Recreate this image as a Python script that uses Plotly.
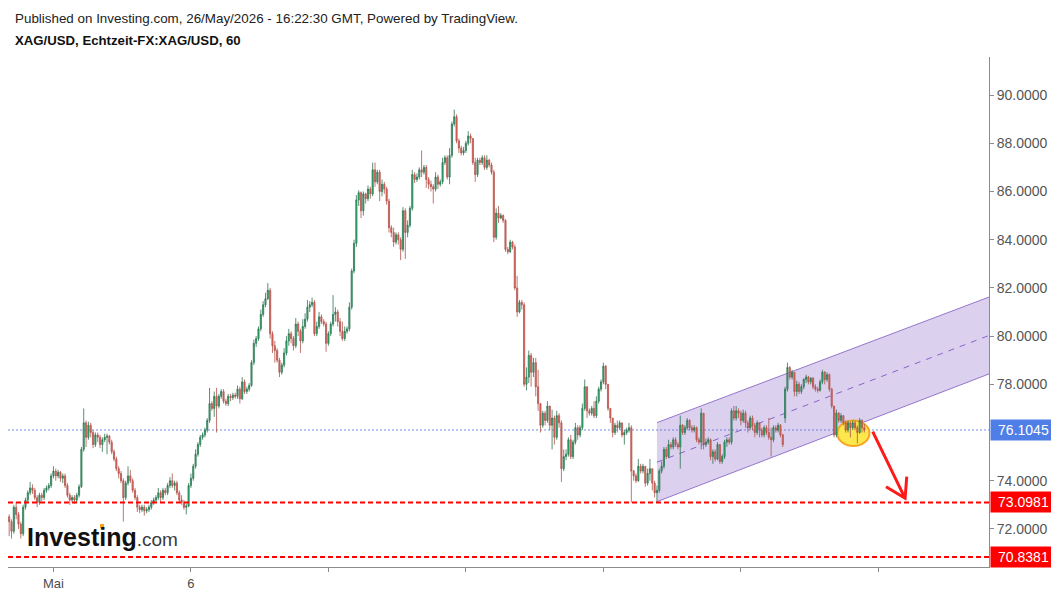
import plotly.graph_objects as go

# XAG/USD hourly candles
closes = [
  72.3, 71.9, 72.9, 72.6, 72.2, 71.8, 72.9, 73.2, 73.5, 73.7,
  73.6, 73.3, 73.1, 73.4, 73.3, 73.6, 73.7, 73.8, 74.2, 74.4,
  74.2, 74.35, 74.1, 74.2, 73.8, 73.4, 73.2, 73.3, 73.2, 73.4,
  73.75, 75.3, 76.4, 75.8, 76.3, 76.0, 75.5, 75.9, 75.8, 75.5,
  75.7, 75.8, 75.85, 75.6, 75.2, 74.9, 74.5, 74.3, 74.0, 73.3,
  73.9, 74.2, 74.0, 73.6, 73.3, 72.9, 72.8, 72.9, 72.75, 72.8,
  72.9, 73.1, 73.2, 73.3, 73.5, 73.3, 73.6, 73.5, 73.8, 74.0,
  73.8, 73.9, 73.5, 73.2, 73.1, 72.9, 72.95, 73.8, 74.1, 74.6,
  75.1, 75.5, 75.8, 75.9, 76.1, 76.5, 77.2, 77.0, 77.5, 77.1,
  77.5, 77.7, 77.3, 77.2, 77.5, 77.45, 77.55, 77.5, 77.8, 77.4,
  78.1, 77.7, 77.8, 77.95, 78.9, 79.7, 79.9, 80.3, 80.9, 81.3,
  81.55, 81.9, 80.1, 79.6, 79.4, 79.0, 78.5, 78.8, 79.3, 79.8,
  80.1, 79.9, 79.6, 80.5, 80.2, 79.8, 80.4, 80.7, 81.2, 81.3,
  81.4, 80.1, 80.4, 80.8, 80.6, 80.5, 79.7, 80.1, 80.5, 80.9,
  81.0, 80.6, 80.2, 79.9, 80.2, 80.3, 81.2, 82.7, 83.85, 85.65,
  85.95, 85.2, 85.9, 85.7, 86.1, 85.9, 86.9, 86.4, 86.8, 86.0,
  86.3, 86.1, 85.6, 84.5, 84.3, 83.9, 84.2, 84.0, 83.6, 85.2,
  84.3, 84.6, 85.3, 86.7, 86.5, 86.6, 86.9, 86.8, 87.0, 86.5,
  86.3, 86.2, 86.1, 86.6, 86.3, 86.4, 87.2, 87.4, 86.6, 87.5,
  88.8, 89.1, 88.1, 87.8, 87.6, 87.7, 88.0, 88.3, 88.2, 87.2,
  86.7, 87.3, 87.2, 87.4, 87.0, 87.3, 87.1, 86.8, 84.1, 85.1,
  84.9, 85.0, 84.8, 83.6, 83.5, 83.9, 83.7, 82.0, 81.0, 81.4,
  81.3, 78.0, 78.3, 79.2, 78.5, 78.9, 77.9, 77.2, 76.3, 76.8,
  76.5, 77.1, 76.3, 76.6, 75.8, 76.7, 76.4, 74.5, 75.0, 75.1,
  75.7, 75.0, 75.6, 76.2, 75.9, 76.2, 77.0, 77.9, 76.9, 76.8,
  77.0, 76.7, 77.3, 77.8, 78.1, 78.75, 78.0, 77.0, 76.6, 76.0,
  76.3, 76.2, 76.4, 75.9, 76.0, 76.1, 76.2, 74.4, 74.2, 74.0,
  74.6, 74.4, 74.6, 73.9, 74.3, 74.5, 73.9, 73.5, 73.6, 74.4,
  74.6, 75.3, 75.0, 75.5, 75.4, 75.7, 75.5, 75.4, 76.3, 76.0,
  76.2, 76.5, 76.2, 76.1, 76.2, 75.7, 75.6, 76.8, 75.5, 75.6,
  75.7, 75.0, 75.2, 74.9, 75.5, 74.8, 75.0, 75.6, 75.7, 75.6,
  76.9, 76.6, 76.9, 76.8, 76.5, 76.8, 76.4, 76.2, 76.6, 76.3,
  76.0, 76.4, 76.1, 75.9, 76.2, 76.0, 75.8, 75.7, 76.2, 76.1,
  76.3, 75.9, 75.5, 77.8, 78.7, 78.3, 78.5, 77.7, 78.0, 77.7,
  77.9, 78.2, 78.3, 78.1, 78.25, 77.9, 77.8, 77.75, 78.1, 78.5,
  78.2, 78.4, 77.8, 77.1, 75.9, 76.8, 76.5, 76.7, 76.4, 76.1,
  76.4, 76.2, 76.4, 76.2, 76.0, 76.5, 76.2, 76.1045,
]

opens = [
  72.5, 72.3, 71.9, 72.9, 72.6, 72.2, 71.8, 72.9, 73.2, 73.5,
  73.7, 73.6, 73.3, 73.1, 73.4, 73.3, 73.6, 73.7, 73.8, 74.2,
  74.4, 74.2, 74.35, 74.1, 74.2, 73.8, 73.4, 73.2, 73.3, 73.2,
  73.4, 73.75, 75.3, 76.4, 75.8, 76.3, 76.0, 75.5, 75.9, 75.8,
  75.5, 75.7, 75.8, 75.85, 75.6, 75.2, 74.9, 74.5, 74.3, 74.0,
  73.3, 73.9, 74.2, 74.0, 73.6, 73.3, 72.9, 72.8, 72.9, 72.75,
  72.8, 72.9, 73.1, 73.2, 73.3, 73.5, 73.3, 73.6, 73.5, 73.8,
  74.0, 73.8, 73.9, 73.5, 73.2, 73.1, 72.9, 72.95, 73.8, 74.1,
  74.6, 75.1, 75.5, 75.8, 75.9, 76.1, 76.5, 77.2, 77.0, 77.5,
  77.1, 77.5, 77.7, 77.3, 77.2, 77.5, 77.45, 77.55, 77.5, 77.8,
  77.4, 78.1, 77.7, 77.8, 77.95, 78.9, 79.7, 79.9, 80.3, 80.9,
  81.3, 81.55, 81.9, 80.1, 79.6, 79.4, 79.0, 78.5, 78.8, 79.3,
  79.8, 80.1, 79.9, 79.6, 80.5, 80.2, 79.8, 80.4, 80.7, 81.2,
  81.3, 81.4, 80.1, 80.4, 80.8, 80.6, 80.5, 79.7, 80.1, 80.5,
  80.9, 81.0, 80.6, 80.2, 79.9, 80.2, 80.3, 81.2, 82.7, 83.85,
  85.65, 85.95, 85.2, 85.9, 85.7, 86.1, 85.9, 86.9, 86.4, 86.8,
  86.0, 86.3, 86.1, 85.6, 84.5, 84.3, 83.9, 84.2, 84.0, 83.6,
  85.2, 84.3, 84.6, 85.3, 86.7, 86.5, 86.6, 86.9, 86.8, 87.0,
  86.5, 86.3, 86.2, 86.1, 86.6, 86.3, 86.4, 87.2, 87.4, 86.6,
  87.5, 88.8, 89.1, 88.1, 87.8, 87.6, 87.7, 88.0, 88.3, 88.2,
  87.2, 86.7, 87.3, 87.2, 87.4, 87.0, 87.3, 87.1, 86.8, 84.1,
  85.1, 84.9, 85.0, 84.8, 83.6, 83.5, 83.9, 83.7, 82.0, 81.0,
  81.4, 81.3, 78.0, 78.3, 79.2, 78.5, 78.9, 77.9, 77.2, 76.3,
  76.8, 76.5, 77.1, 76.3, 76.6, 75.8, 76.7, 76.4, 74.5, 75.0,
  75.1, 75.7, 75.0, 75.6, 76.2, 75.9, 76.2, 77.0, 77.9, 76.9,
  76.8, 77.0, 76.7, 77.3, 77.8, 78.1, 78.75, 78.0, 77.0, 76.6,
  76.0, 76.3, 76.2, 76.4, 75.9, 76.0, 76.1, 76.2, 74.4, 74.2,
  74.0, 74.6, 74.4, 74.6, 73.9, 74.3, 74.5, 73.9, 73.5, 73.6,
  74.4, 74.6, 75.3, 75.0, 75.5, 75.4, 75.7, 75.5, 75.4, 76.3,
  76.0, 76.2, 76.5, 76.2, 76.1, 76.2, 75.7, 75.6, 76.8, 75.5,
  75.6, 75.7, 75.0, 75.2, 74.9, 75.5, 74.8, 75.0, 75.6, 75.7,
  75.6, 76.9, 76.6, 76.9, 76.8, 76.5, 76.8, 76.4, 76.2, 76.6,
  76.3, 76.0, 76.4, 76.1, 75.9, 76.2, 76.0, 75.8, 75.7, 76.2,
  76.1, 76.3, 75.9, 76.6, 77.8, 78.7, 78.3, 78.5, 77.7, 78.0,
  77.7, 77.9, 78.2, 78.3, 78.1, 78.25, 77.9, 77.8, 77.75, 78.1,
  78.5, 78.2, 78.4, 77.8, 77.1, 75.9, 76.8, 76.5, 76.7, 76.4,
  76.1, 76.4, 76.2, 76.4, 76.2, 76.0, 76.5, 76.2,
]

highs = [
  72.6, 72.4, 73.0, 73.1, 72.7, 72.3, 73.0, 73.3, 73.6, 73.95,
  73.85, 73.7, 73.4, 73.5, 73.5, 73.7, 73.8, 73.9, 74.3, 74.6,
  74.5, 74.45, 74.4, 74.3, 74.3, 73.9, 73.5, 73.4, 73.4, 73.5,
  73.85, 75.4, 77.0, 76.5, 76.45, 76.4, 76.1, 76.0, 76.0, 75.9,
  75.8, 75.95, 75.95, 75.9, 75.7, 75.3, 75.0, 74.6, 74.4, 74.1,
  74.0, 74.6, 74.45, 74.1, 73.7, 73.4, 73.0, 73.0, 73.0, 72.9,
  73.0, 73.2, 73.3, 73.4, 73.7, 73.6, 73.7, 73.7, 73.9, 74.15,
  74.3, 74.0, 74.0, 73.6, 73.4, 73.2, 73.05, 73.9, 74.3, 74.7,
  75.3, 75.6, 75.9, 76.0, 76.2, 76.6, 77.85, 77.3, 77.7, 77.85,
  77.6, 77.8, 77.8, 77.4, 77.6, 77.6, 77.65, 77.65, 77.95, 77.9,
  78.3, 78.2, 77.9, 78.05, 79.0, 79.85, 80.0, 80.4, 81.1, 81.45,
  81.8, 82.2, 82.0, 80.2, 79.8, 79.5, 79.1, 78.9, 79.5, 80.0,
  80.3, 80.2, 80.0, 80.75, 80.6, 80.3, 80.7, 80.95, 81.5, 81.45,
  81.6, 81.5, 80.6, 81.0, 80.9, 80.7, 80.6, 80.2, 80.6, 81.7,
  81.2, 81.1, 80.75, 80.6, 80.4, 80.4, 81.4, 82.8, 84.0, 85.85,
  86.05, 86.0, 86.0, 85.95, 86.25, 86.2, 87.2, 87.2, 86.9, 86.9,
  86.5, 86.4, 86.2, 85.7, 84.6, 84.5, 84.3, 84.3, 84.1, 85.35,
  85.3, 84.8, 85.4, 86.9, 86.8, 86.75, 87.0, 87.7, 87.1, 87.1,
  86.6, 86.45, 86.3, 86.8, 86.7, 86.5, 87.4, 87.5, 87.5, 87.8,
  88.9, 89.4, 89.2, 88.2, 87.9, 87.85, 88.1, 88.5, 88.4, 88.2,
  87.4, 87.4, 87.4, 87.5, 87.5, 87.5, 87.35, 87.2, 86.9, 85.3,
  85.4, 85.1, 85.05, 84.85, 83.7, 84.0, 83.95, 83.8, 82.5, 81.5,
  81.5, 81.4, 78.7, 79.4, 79.3, 79.1, 79.1, 78.6, 77.2, 76.9,
  76.9, 77.3, 77.1, 76.95, 76.7, 76.9, 76.8, 76.5, 75.3, 75.3,
  75.8, 75.9, 75.7, 76.4, 76.3, 76.3, 77.2, 78.2, 77.9, 77.0,
  77.1, 77.3, 77.5, 77.9, 78.2, 78.9, 78.8, 78.0, 77.0, 76.6,
  76.4, 76.5, 76.5, 76.4, 76.1, 76.2, 76.4, 76.3, 74.45, 74.3,
  74.9, 74.7, 74.7, 74.6, 74.5, 74.9, 74.5, 74.0, 73.8, 74.5,
  74.8, 75.4, 75.4, 75.7, 75.6, 75.8, 75.8, 75.6, 76.7, 76.35,
  76.3, 76.6, 76.55, 76.3, 76.3, 76.25, 75.8, 77.0, 76.8, 75.75,
  75.8, 75.75, 75.3, 75.3, 75.6, 75.5, 75.1, 75.7, 75.8, 75.8,
  77.0, 77.1, 77.1, 77.0, 76.9, 76.95, 76.9, 76.5, 76.7, 76.7,
  76.4, 76.5, 76.4, 76.2, 76.3, 76.3, 76.6, 76.2, 76.3, 76.3,
  76.4, 76.35, 75.95, 77.9, 78.9, 78.75, 78.6, 78.5, 78.15, 78.1,
  78.0, 78.25, 78.4, 78.35, 78.3, 78.3, 78.0, 77.9, 78.2, 78.6,
  78.55, 78.5, 78.45, 77.85, 77.1, 76.95, 76.85, 76.8, 76.7, 76.5,
  76.5, 76.45, 76.5, 76.5, 76.3, 76.6, 76.55, 76.35,
]

lows = [
  71.7, 71.6, 71.8, 72.4, 72.0, 71.6, 71.7, 72.8, 73.1, 73.4,
  73.45, 73.2, 72.9, 73.0, 73.15, 73.2, 73.5, 73.6, 73.7, 74.1,
  74.0, 74.1, 73.95, 73.9, 73.7, 73.3, 73.0, 73.1, 73.05, 73.1,
  73.3, 73.7, 75.2, 75.4, 75.7, 75.8, 75.35, 75.4, 75.6, 75.35,
  75.2, 75.6, 75.1, 75.5, 75.1, 74.8, 74.4, 74.1, 73.9, 72.3,
  73.2, 73.8, 73.9, 73.5, 73.2, 72.7, 72.65, 72.7, 72.55, 72.65,
  72.7, 72.8, 73.0, 73.1, 73.2, 73.1, 73.2, 73.4, 73.4, 73.7,
  73.7, 73.6, 73.4, 73.1, 73.0, 72.8, 72.6, 72.9, 73.7, 74.0,
  74.5, 75.0, 75.4, 75.7, 75.8, 76.0, 76.4, 76.9, 76.65, 76.0,
  77.0, 77.4, 77.2, 77.1, 77.1, 77.3, 77.35, 77.4, 77.4, 77.2,
  77.35, 77.6, 77.6, 77.7, 77.9, 78.8, 79.55, 79.8, 80.2, 80.8,
  81.2, 81.5, 79.9, 79.3, 78.9, 78.9, 78.3, 78.4, 78.7, 79.2,
  79.6, 79.7, 79.4, 79.5, 80.0, 79.3, 79.7, 80.3, 80.6, 81.0,
  81.2, 80.0, 80.0, 80.3, 80.5, 80.4, 79.35, 79.6, 80.0, 80.4,
  80.6, 80.4, 80.0, 79.8, 79.8, 80.1, 80.2, 81.1, 82.6, 83.7,
  85.4, 84.9, 85.0, 85.5, 85.6, 85.7, 85.8, 86.2, 86.3, 85.6,
  85.8, 85.9, 85.45, 84.3, 84.1, 83.7, 83.8, 83.8, 83.15, 83.5,
  83.2, 84.1, 84.5, 85.2, 86.35, 86.4, 86.5, 86.6, 86.7, 86.15,
  86.1, 86.0, 85.5, 86.0, 86.1, 86.2, 86.3, 87.1, 86.5, 86.3,
  87.4, 88.7, 88.0, 87.6, 87.5, 87.5, 87.6, 87.9, 88.0, 87.1,
  86.4, 86.6, 87.1, 87.1, 86.9, 86.9, 87.0, 86.7, 83.9, 84.0,
  84.7, 84.85, 84.7, 83.5, 83.4, 83.45, 83.6, 81.9, 80.8, 80.95,
  81.1, 77.9, 77.75, 78.05, 77.9, 78.3, 77.5, 76.9, 76.0, 76.2,
  76.3, 76.4, 76.1, 75.3, 75.5, 75.7, 76.2, 73.95, 74.4, 74.85,
  75.0, 74.9, 74.9, 75.5, 75.7, 75.8, 76.1, 76.9, 76.6, 76.7,
  76.7, 76.6, 76.6, 77.2, 77.7, 78.0, 77.8, 76.9, 76.4, 75.8,
  75.9, 76.0, 76.1, 75.8, 75.5, 75.9, 76.0, 73.1, 74.0, 73.9,
  73.95, 74.3, 74.3, 73.75, 73.8, 74.0, 73.6, 73.3, 73.1, 73.5,
  74.3, 74.5, 74.9, 74.95, 75.3, 75.3, 75.4, 75.3, 74.5, 75.9,
  75.9, 76.1, 76.1, 76.0, 76.0, 75.6, 75.5, 75.3, 75.3, 75.4,
  75.5, 74.85, 74.7, 74.8, 74.85, 74.7, 74.7, 74.9, 75.4, 75.5,
  75.5, 76.5, 76.5, 76.6, 76.3, 76.4, 76.2, 76.0, 76.1, 76.1,
  75.8, 75.9, 75.8, 75.8, 75.8, 75.9, 75.7, 75.0, 75.6, 76.0,
  76.0, 75.8, 75.4, 76.4, 77.7, 78.2, 78.2, 77.5, 77.5, 77.6,
  77.6, 77.8, 78.05, 78.0, 78.0, 77.8, 77.7, 77.65, 77.7, 78.0,
  78.0, 78.1, 77.7, 77.0, 75.8, 75.8, 76.4, 76.4, 76.3, 76.0,
  76.0, 75.8, 76.1, 76.1, 75.55, 75.95, 76.0, 76.0,
]

# Axis ticks (76 is hidden behind the last-price box)
price_ticks = [72, 74, 78, 80, 82, 84, 86, 88, 90]
price_labels = ["72.0000", "74.0000", "78.0000", "80.0000",
                "82.0000", "84.0000", "86.0000", "88.0000", "90.0000"]
time_ticks = [19, 78, 137, 196, 255, 314, 373]
time_labels = ["Mai", "6", "", "", "", "", ""]

# Levels marked on the chart
last_price = 76.1045
support_levels = [73.0981, 70.8381]

# Rising channel drawn on the chart (bar index, price)
channel_x = [278, 420.5]
channel_top = [76.41, 81.62]
channel_bottom = [73.13, 78.43]

FONT = "Liberation Sans, Arial, sans-serif"

fig = go.Figure()

fig.add_trace(go.Candlestick(
  x=list(range(len(closes))),
  open=opens, high=highs, low=lows, close=closes,
  increasing=dict(fillcolor="#1fc27a", line=dict(color="#2f7352", width=0.8)),
  decreasing=dict(fillcolor="#f0695f", line=dict(color="#b0534b", width=0.8)),
  showlegend=False,
  hoverinfo="skip",
))

shapes = []

# channel
mid_left = (channel_top[0] + channel_bottom[0]) / 2
mid_right = (channel_top[1] + channel_bottom[1]) / 2
shapes.append(dict(
  type="path", xref="x", yref="y", layer="below",
  path="M %s,%s L %s,%s L %s,%s L %s,%s Z" % (
    channel_x[0], channel_top[0], channel_x[1], channel_top[1],
    channel_x[1], channel_bottom[1], channel_x[0], channel_bottom[0]),
  fillcolor="rgba(126,87,194,0.28)", line=dict(width=0),
))
shapes.append(dict(type="line", xref="x", yref="y", layer="below",
  x0=channel_x[0], y0=channel_top[0], x1=channel_x[1], y1=channel_top[1],
  line=dict(color="#9575cd", width=1)))
shapes.append(dict(type="line", xref="x", yref="y", layer="below",
  x0=channel_x[0], y0=channel_bottom[0], x1=channel_x[1], y1=channel_bottom[1],
  line=dict(color="#9575cd", width=1)))
shapes.append(dict(type="line", xref="x", yref="y", layer="below",
  x0=channel_x[0], y0=mid_left, x1=channel_x[1], y1=mid_right,
  line=dict(color="#8a63c8", width=1, dash="6px,6px")))

# last price line
shapes.append(dict(type="line", xref="paper", yref="y", layer="below",
  x0=0, x1=1, y0=last_price, y1=last_price,
  line=dict(color="#6f8fe8", width=1, dash="2px,2px")))

# support lines
for lvl in support_levels:
  shapes.append(dict(type="line", xref="paper", yref="y", layer="above",
    x0=0, x1=1, y0=lvl, y1=lvl,
    line=dict(color="#ff0000", width=2, dash="5px,3px")))

# yellow highlight
shapes.append(dict(type="circle", xref="x", yref="y", layer="below",
  x0=355.4, x1=369.2, y0=75.44, y1=76.50,
  fillcolor="#fde74c", line=dict(color="#f5a623", width=2)))

# red arrow
shapes.append(dict(type="path", xref="x", yref="y", layer="above",
  path="M 370.6,76.04 L 384.5,73.27 M 376.3,73.75 L 384.5,73.27 L 385.2,74.17",
  line=dict(color="#ff1a1a", width=3)))

# orange dot on the logo
shapes.append(dict(type="rect", xref="paper", yref="paper", layer="above",
  x0=0.0938, x1=0.0979, y0=0.0765, y1=0.0843,
  fillcolor="#f7a21b", line=dict(width=0)))

annotations = []

# price boxes on the axis
annotations.append(dict(
  x=1.0015, xref="paper", y=last_price, yref="y", xanchor="left", yanchor="middle",
  text="76.1045", showarrow=False, bgcolor="#4f7fe6", borderpad=2, width=61,
  font=dict(family=FONT, size=14, color="white")))
for lvl in support_levels:
  annotations.append(dict(
    x=1.0015, xref="paper", y=lvl, yref="y", xanchor="left", yanchor="middle",
    text="%.4f" % lvl, showarrow=False, bgcolor="#ff0000", borderpad=2, width=61,
    font=dict(family=FONT, size=14, color="white")))

# header
annotations.append(dict(
  x=0.005, xref="paper", y=1.0755, yref="paper", xanchor="left", yanchor="middle",
  text="Published on Investing.com, 26/May/2026 - 16:22:30 GMT, Powered by TradingView.",
  showarrow=False, font=dict(family=FONT, size=13.4, color="#222222")))
annotations.append(dict(
  x=0.005, xref="paper", y=1.0325, yref="paper", xanchor="left", yanchor="middle",
  text="<b>XAG/USD, Echtzeit-FX:XAG/USD, 60</b>",
  showarrow=False, font=dict(family=FONT, size=13.2, color="#111111")))

# logo
annotations.append(dict(
  x=0.0173, xref="paper", y=0.0588, yref="paper", xanchor="left", yanchor="middle",
  text="<b>Investing</b><span style='font-size:19px;color:#3a3a3a'>.com</span>",
  showarrow=False, font=dict(family=FONT, size=25, color="#111111")))

# the page puts the figure 8px in from the top-left corner
fig.update_layout(
  width=1051, height=587,
  margin=dict(l=0, r=70, t=49, b=28),
  paper_bgcolor="white", plot_bgcolor="white",
  font=dict(family=FONT),
  shapes=shapes, annotations=annotations,
  showlegend=False,
  xaxis=dict(
    range=[-0.5, 420.5], rangeslider=dict(visible=False),
    tickvals=time_ticks, ticktext=time_labels,
    showgrid=False, zeroline=False, showline=True, linecolor="#8c8c8c",
    ticks="outside", ticklen=4, tickcolor="#8c8c8c",
    tickfont=dict(family=FONT, size=13, color="#4d4d4d"),
  ),
  yaxis=dict(
    side="right", range=[70.42, 91.58],
    tickvals=price_ticks, ticktext=price_labels,
    showgrid=False, zeroline=False, showline=True, linecolor="#8c8c8c",
    ticks="outside", ticklen=4, tickcolor="#8c8c8c",
    tickfont=dict(family=FONT, size=14, color="#555555"),
  ),
)

fig.write_html("out.html")
